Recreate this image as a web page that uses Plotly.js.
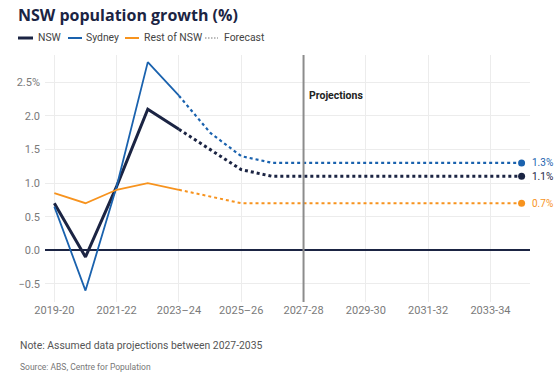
<!DOCTYPE html>
<html>
<head>
<meta charset="utf-8">
<script src="https://cdn.plot.ly/plotly-3.0.1.min.js"></script>
<style>html,body{margin:0;padding:0;background:#fff;}#chart{width:554px;height:380px;}</style>
</head>
<body>
<div id="chart"></div>
<script>
// ---- Data ----
const years = ["2019-20","2020-21","2021-22","2022-23","2023-24","2024-25","2025-26","2026-27",
               "2027-28","2028-29","2029-30","2030-31","2031-32","2032-33","2033-34","2034-35"];
const nswValues    = [0.70, -0.10, 0.95, 2.10, 1.80, 1.50, 1.20, 1.10, 1.10, 1.10, 1.10, 1.10, 1.10, 1.10, 1.10, 1.10];
const sydneyValues = [0.65, -0.60, 0.95, 2.80, 2.30, 1.75, 1.40, 1.30, 1.30, 1.30, 1.30, 1.30, 1.30, 1.30, 1.30, 1.30];
const restValues   = [0.85, 0.70, 0.90, 1.00, 0.90, 0.80, 0.70, 0.70, 0.70, 0.70, 0.70, 0.70, 0.70, 0.70, 0.70, 0.70];
const lastActual = "2023-24";
const projectionStart = "2027-28";
const tickYears  = ["2019-20","2021-22","2023-24","2025-26","2027-28","2029-30","2031-32","2033-34"];
const tickLabels = ["2019-20","2021-22","2023\u201324","2025\u201326","2027-28","2029-30","2031-32","2033-34"];
const yTickVals  = [-0.5, 0, 0.5, 1, 1.5, 2, 2.5];
const yTickText  = ["\u22120.5","0.0","0.5","1.0","1.5","2.0","2.5%"];
const seriesNames = ["NSW","Sydney","Rest of NSW"];
const legendLabels = ["NSW","Sydney","Rest of NSW","Forecast"];

// ---- Styles ----
const FONT = "Roboto, sans-serif";
const colors = {NSW:"#1b2443", Sydney:"#1a62ae", "Rest of NSW":"#f7931e"};
const widths = {NSW:3, Sydney:1.8, "Rest of NSW":1.8};
const dotWidths = {NSW:3, Sydney:2.2, "Rest of NSW":2};
const seriesData = {NSW:nswValues, Sydney:sydneyValues, "Rest of NSW":restValues};

const W = 554, H = 380;
const M = {l:45, r:24, t:55, b:78};
const PW = W - M.l - M.r, PH = H - M.t - M.b;
const px2x = p => (p - M.l) / PW;
const px2y = p => (H - M.b - p) / PH;

const cut = years.indexOf(lastActual);
const traces = [];
seriesNames.forEach(name => {
  const v = seriesData[name];
  traces.push({
    x: years.slice(0, cut + 1), y: v.slice(0, cut + 1), type: "scatter", mode: "lines",
    line: {color: colors[name], width: widths[name]}, hoverinfo: "skip", showlegend: false
  });
  traces.push({
    x: years.slice(cut), y: v.slice(cut), type: "scatter", mode: "lines",
    line: {color: colors[name], width: dotWidths[name], dash: "dot"}, hoverinfo: "skip", showlegend: false
  });
  traces.push({
    x: [years[years.length - 1]], y: [v[v.length - 1]], type: "scatter", mode: "markers",
    marker: {color: colors[name], size: 7}, hoverinfo: "skip", showlegend: false
  });
});

const annotations = [];
const shapes = [];
// end labels
seriesNames.forEach(name => {
  const v = seriesData[name];
  annotations.push({
    x: 1, xref: "paper", y: v[v.length - 1], yref: "y", xanchor: "left", yanchor: "middle",
    xshift: 1, borderpad: 0, text: v[v.length - 1].toFixed(1) + "%", showarrow: false,
    font: {family: FONT, size: 10, color: colors[name]}
  });
});
// projections line
shapes.push({type: "line", xref: "x", yref: "paper", x0: years.indexOf(projectionStart), x1: years.indexOf(projectionStart),
  y0: 0, y1: 1, line: {color: "#8c8c8c", width: 2}, layer: "above"});
annotations.push({x: years.indexOf(projectionStart), xref: "x", y: px2y(95), yref: "paper", xanchor: "left", yanchor: "middle",
  xshift: 3, text: "<b>Projections</b>", showarrow: false, font: {family: FONT, size: 10.5, color: "#222"}});

// manual legend
const legendItems = [
  {x0: 18, x1: 33, tx: 36, color: colors.NSW, width: 3, dash: "solid"},
  {x0: 68, x1: 82, tx: 84, color: colors.Sydney, width: 2, dash: "solid"},
  {x0: 125, x1: 139, tx: 142, color: colors["Rest of NSW"], width: 2, dash: "solid"},
  {x0: 205, x1: 218, tx: 222, color: "#777", width: 1, dash: "1.5px,1.5px"}
];
legendItems.forEach((it, i) => {
  shapes.push({type: "line", xref: "paper", yref: "paper", x0: px2x(it.x0), x1: px2x(it.x1), y0: px2y(38), y1: px2y(38),
    line: {color: it.color, width: it.width, dash: it.dash}});
  annotations.push({x: px2x(it.tx), xref: "paper", y: px2y(38), yref: "paper", xanchor: "left", yanchor: "middle",
    text: legendLabels[i], showarrow: false, font: {family: FONT, size: 10.4, color: "#444"}});
});

// note & source
annotations.push({x: px2x(18), xref: "paper", y: px2y(345), yref: "paper", xanchor: "left", yanchor: "middle",
  text: "Note: Assumed data projections between 2027-2035", showarrow: false,
  font: {family: FONT, size: 10.4, color: "#555"}});
annotations.push({x: px2x(18), xref: "paper", y: px2y(367), yref: "paper", xanchor: "left", yanchor: "middle",
  text: "Source: ABS, Centre for Population", showarrow: false,
  font: {family: FONT, size: 8.5, color: "#777"}});

const layout = {
  width: W, height: H,
  margin: M,
  paper_bgcolor: "#fff", plot_bgcolor: "#fff",
  showlegend: false,
  title: {text: "<b>NSW population growth (%)</b>", xref: "container", yref: "container",
    x: 18 / W, xanchor: "left", y: 1 - 15 / H, yanchor: "middle",
    font: {family: "Open Sans, sans-serif", size: 16, color: "#1b2443"}},
  xaxis: {type: "category", categoryorder: "array", categoryarray: years,
    range: [-0.3, 15.27], tickmode: "array", tickvals: tickYears, ticktext: tickLabels,
    showgrid: true, gridcolor: "#ececec", gridwidth: 1, zeroline: false, showline: false, ticks: "",
    tickfont: {family: FONT, size: 11, color: "#7a7a7a"}, fixedrange: true},
  yaxis: {range: [-0.77, 2.906], tickmode: "array", tickvals: yTickVals, ticktext: yTickText,
    showgrid: true, gridcolor: "#ececec", gridwidth: 1, zeroline: true, zerolinecolor: "#1b2443", zerolinewidth: 2,
    showline: false, ticks: "", ticklabelstandoff: 4,
    tickfont: {family: FONT, size: 11, color: "#7a7a7a"}, fixedrange: true},
  shapes: shapes,
  annotations: annotations
};

Plotly.newPlot("chart", traces, layout, {displayModeBar: false, staticPlot: true});
</script>
</body>
</html>
